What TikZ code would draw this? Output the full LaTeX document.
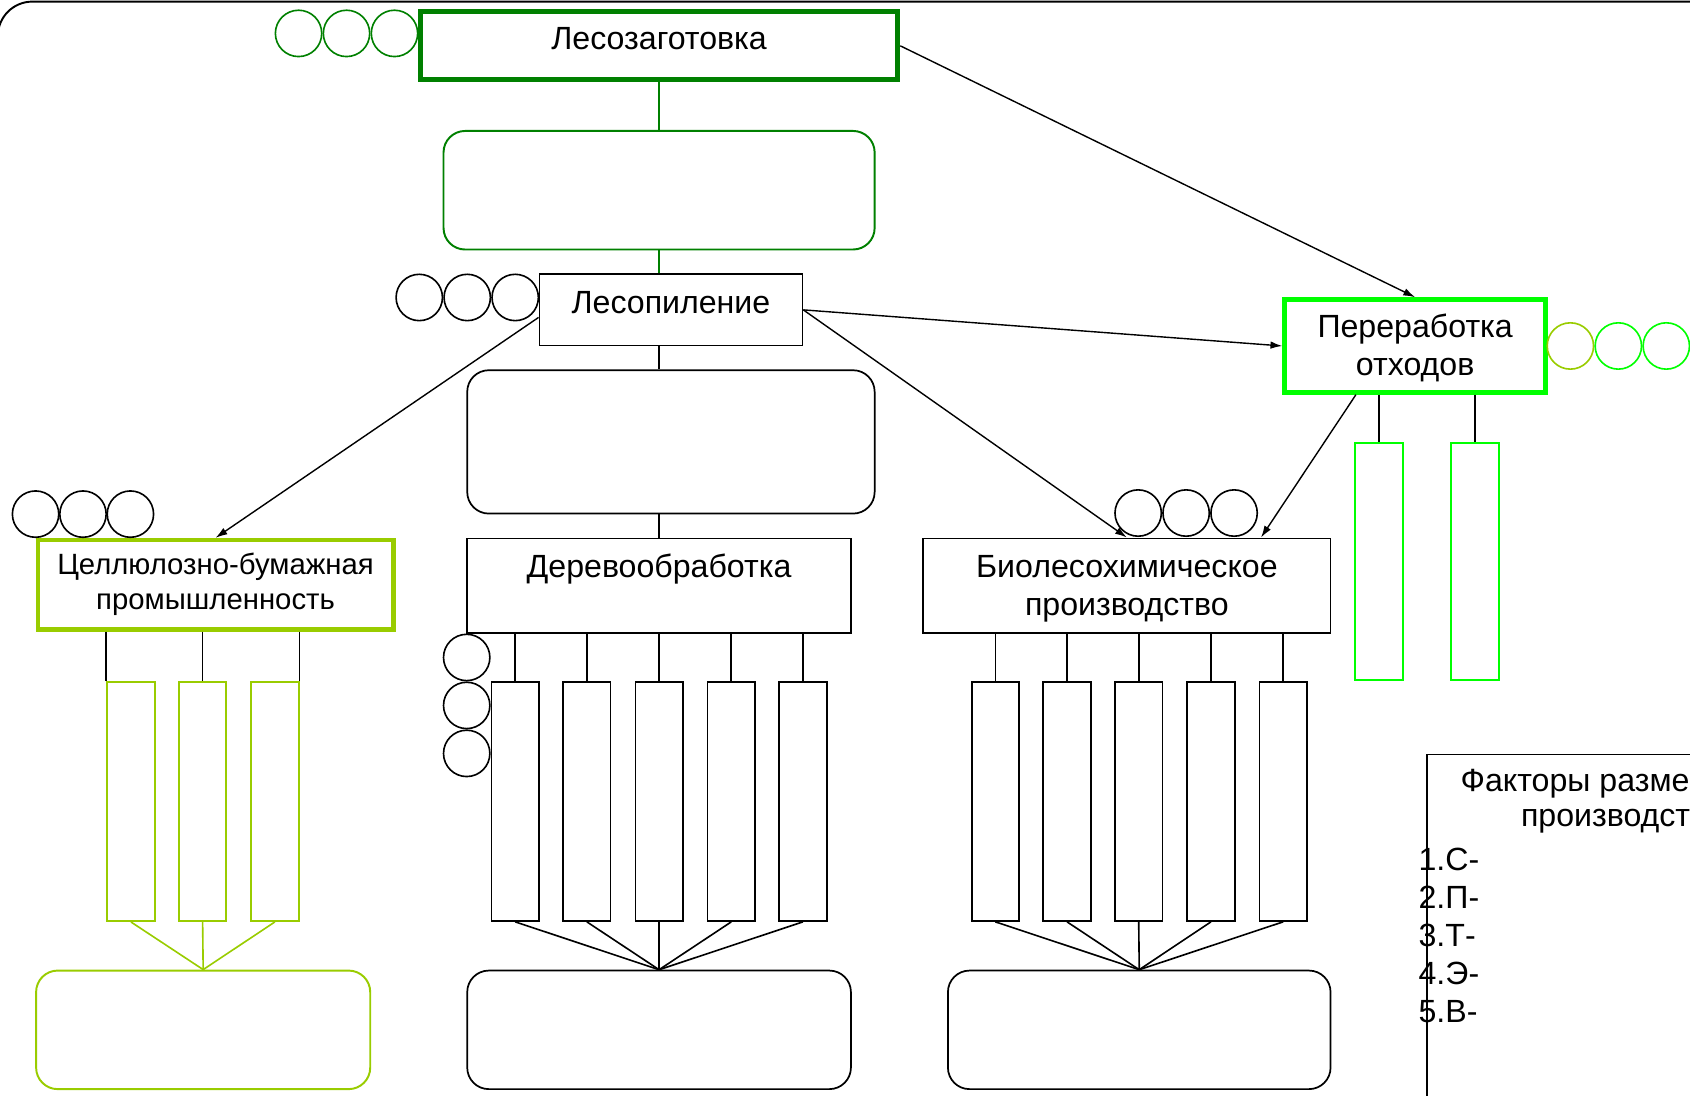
\documentclass[tikz,border=0pt]{standalone}
\usepackage{fontspec}
\setmainfont{Liberation Sans}
\usetikzlibrary{arrows.meta,calc}
\definecolor{dgreen}{RGB}{0,128,0}
\definecolor{ygreen}{RGB}{153,204,0}
\definecolor{bgreen}{RGB}{0,255,0}
\begin{document}
\begin{tikzpicture}[x=1pt,y=-1pt,
  every node/.style={font=\fontsize{29.8}{35.5}\selectfont},
  box/.style={draw=black, rectangle, inner sep=0pt, line width=1.6pt, fill=white},
  rbox/.style={box, rounded corners=20pt},
  bar/.style={box, minimum width=44pt, minimum height=222pt},
  ball/.style={draw=black, circle, inner sep=0pt, minimum size=43pt, line width=1.5pt},
  lbl/.style={inner sep=0pt, align=center},
  conn/.style={line width=1.5pt},
  arr/.style={line width=1.3pt, -{Latex[length=11pt,width=7pt]}}]
\useasboundingbox (0,0) rectangle (1568,1016);
\clip (0,0) rectangle (1568,1016);
% outer frame
\draw[line width=1.8pt, rounded corners=32pt] (-2,1.5) rectangle (1700,1200);

% main boxes
\node[box, draw=dgreen, line width=4.5pt, minimum width=443pt, minimum height=63pt] (lz) at (611.5,42.5) {};
\node[rbox, draw=dgreen, line width=1.8pt, minimum width=400pt, minimum height=110pt] (g1) at (611.5,176.5) {};
\node[box, minimum width=244pt, minimum height=66pt] (lp) at (622.5,287.5) {};
\node[rbox, minimum width=378pt, minimum height=133pt] (g2) at (622.5,410) {};
\node[box, minimum width=356pt, minimum height=88pt] (dv) at (611.5,543.5) {};
\node[box, draw=ygreen, line width=4pt, minimum width=330pt, minimum height=83pt] (cbp) at (200,542.5) {};
\node[box, minimum width=378pt, minimum height=88pt] (bio) at (1045.5,543.5) {};
\node[box, draw=bgreen, line width=4.5pt, minimum width=242pt, minimum height=86pt] (pr) at (1313,321) {};
\node[rbox, minimum width=356pt, minimum height=110pt] (r3) at (611.5,955.5) {};
\node[rbox, minimum width=355pt, minimum height=110pt] (r4) at (1057,955.5) {};
\node[rbox, draw=ygreen, line width=1.8pt, minimum width=310pt, minimum height=110pt] (r5) at (188.5,955.5) {};

% labels
\node[lbl] (tlz) at (611.5,36) {Лесозаготовка};
\node[lbl] (tlp) at (622.5,281) {Лесопиление};
\node[lbl] (tdv) at (611.5,528) {Деревообработка};
\node[lbl, font=\fontsize{27.2}{33}\selectfont] (tcbp) at (200,542) {Целлюлозно-бумажная\\промышленность};
\node[lbl] (tbio) at (1045.5,546) {Биолесохимическое\\производство};
\node[lbl] (tpr) at (1313,323) {Переработка\\отходов};

% circles
\node[ball, draw=dgreen] (cz1) at (277,31) {};
\node[ball, draw=dgreen] (cz2) at (321.5,31) {};
\node[ball, draw=dgreen] (cz3) at (366,31) {};
\node[ball] (cp1) at (389,276) {};
\node[ball] (cp2) at (433.5,276) {};
\node[ball] (cp3) at (478,276) {};
\node[ball] (cc1) at (33,477) {};
\node[ball] (cc2) at (77,477) {};
\node[ball] (cc3) at (121,477) {};
\node[ball] (cb1) at (1056,476) {};
\node[ball] (cb2) at (1100.5,476) {};
\node[ball] (cb3) at (1145,476) {};
\node[ball] (cd1) at (433,610) {};
\node[ball] (cd2) at (433,654.5) {};
\node[ball] (cd3) at (433,699) {};
\node[ball, draw=ygreen] (cr1) at (1457,321) {};
\node[ball, draw=bgreen] (cr2) at (1501.5,321) {};
\node[ball, draw=bgreen] (cr3) at (1546,321) {};

% bars
\foreach \i/\x in {1/478,2/544.5,3/611.5,4/678.5,5/745}
  \node[bar] (d\i) at (\x,743.5) {};
\foreach \i/\x in {1/923.5,2/990,3/1056.5,4/1123.5,5/1190.5}
  \node[bar] (b\i) at (\x,743.5) {};
\foreach \i/\x in {1/121.5,2/188,3/255}
  \node[bar, draw=ygreen, line width=1.8pt] (c\i) at (\x,743.5) {};
\foreach \i/\x in {1/1279.5,2/1368.5}
  \node[bar, draw=bgreen, line width=1.8pt, minimum height=220pt] (p\i) at (\x,521) {};

% vertical connectors of the central column
\draw[conn, dgreen] (lz.south) -- (g1.north -| lz.south);
\draw[conn, dgreen] (g1.south -| lz.south) -- (lp.north -| lz.south);
\draw[conn] (lp.south -| lz.south) -- (g2.north -| lz.south);
\draw[conn] (g2.south -| lz.south) -- (dv.north -| lz.south);

% branches to bars
\foreach \i in {1,...,5} {
  \draw[conn] (dv.south -| d\i.north) -- (d\i.north);
  \draw[conn] (d\i.south) -- (r3.north);
  \draw[conn] (bio.south -| b\i.north) -- (b\i.north);
  \draw[conn] (b\i.south) -- (r4.north);
}
\draw[conn] (cbp.south -| c1.north west) -- (c1.north west);
\draw[conn] (cbp.south -| c2.north) -- (c2.north);
\draw[conn] (cbp.south -| c3.north east) -- (c3.north east);
\foreach \i in {1,2,3}
  \draw[conn, ygreen] (c\i.south) -- (r5.north);
\foreach \i in {1,2}
  \draw[conn] (pr.south -| p\i.north) -- (p\i.north);

% arrows
\draw[arr] (lz.east) -- (pr.north);
\draw[arr] (lp.east) -- (pr.west);
\draw[arr] (lp.east) -- (bio.north);
\draw[arr] ([yshift=-7pt]lp.west) -- (cbp.north);
\draw[arr] ([xshift=-55pt]pr.south) -- ([xshift=124.5pt]bio.north);

% factors box
\coordinate (fb) at (1324,1030);
\coordinate (fc) at (1324,700);
\coordinate (fr) at (1600,700);
\draw[line width=1.6pt] (fb) -- (fc) -- (fr);
\node[lbl, anchor=west] (f1) at (1355,727) {Факторы размещения};
\node[lbl, anchor=west] (f2) at (1411,762) {производства};
\node[lbl, anchor=west] (l1) at (1316,797.5) {1.С-};
\node[lbl, anchor=west] (l2) at (1316,832.5) {2.П-};
\node[lbl, anchor=west] (l3) at (1316,868) {3.Т-};
\node[lbl, anchor=west] (l4) at (1316,903.5) {4.Э-};
\node[lbl, anchor=west] (l5) at (1316,938.5) {5.В-};
\end{tikzpicture}
\end{document}
